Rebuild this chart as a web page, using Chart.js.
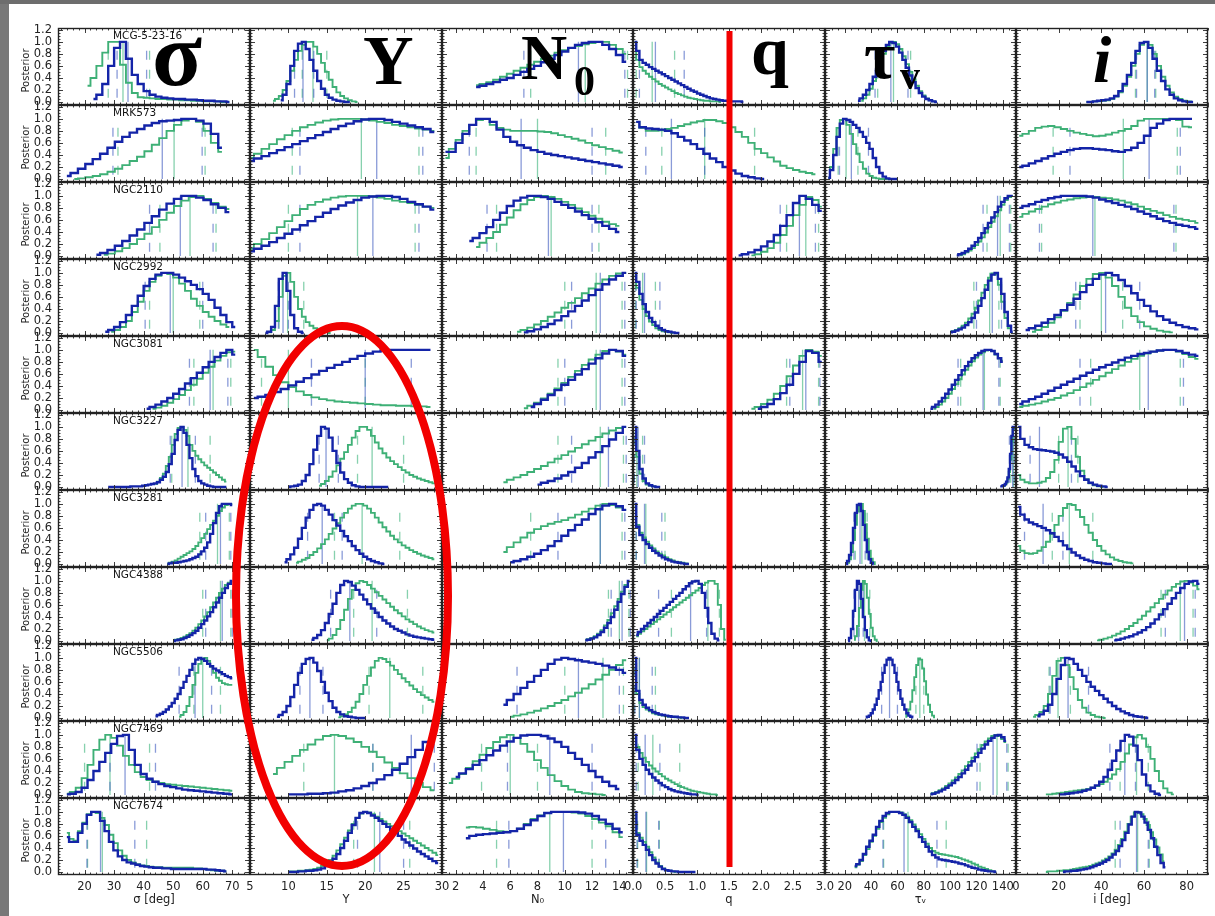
<!DOCTYPE html>
<html>
<head>
<meta charset="utf-8">
<title>Posterior distributions</title>
<script src="https://cdn.jsdelivr.net/npm/chart.js@4.4.1/dist/chart.umd.min.js"></script>
<style>
  html, body { margin: 0; padding: 0; }
  body { position: relative; width: 1215px; height: 916px; overflow: hidden; background: #fff; font-family: "DejaVu Sans", "Liberation Sans", sans-serif; }
  canvas { position: absolute; z-index: 1; }
  .edge { position: absolute; background: #787878; z-index: 4; }
  .galaxy { position: absolute; font-size: 10.5px; color: #111; white-space: nowrap; z-index: 2; }
  .ylab { position: absolute; width: 60px; text-align: center; font-size: 10px; color: #222; transform: rotate(-90deg); white-space: nowrap; z-index: 2; }
  .sym { position: absolute; font-family: "Liberation Serif", "DejaVu Serif", serif; font-weight: bold; color: #000; line-height: 1; white-space: nowrap; z-index: 2; }
  svg { position: absolute; left: 0; top: 0; z-index: 3; }
</style>
</head>
<body>
<div class="edge" style="left:0;top:0;width:9px;height:916px"></div>
<div class="edge" style="left:0;top:0;width:1215px;height:4px;background:#6d6d6d"></div>

<div class="sym" style="left:152px;top:8px;font-size:92px">σ</div>
<div class="sym" style="left:363px;top:26px;font-size:70px">Y</div>
<div class="sym" style="left:521px;top:26px;font-size:64px">N</div>
<div class="sym" style="left:574px;top:60px;font-size:42px">0</div>
<div class="sym" style="left:751px;top:17px;font-size:68px">q</div>
<div class="sym" style="left:864px;top:21px;font-size:68px">τ</div>
<div class="sym" style="left:900px;top:56px;font-size:40px">v</div>
<div class="sym" style="left:1093px;top:27px;font-size:66px;font-style:italic">i</div>

<svg width="1215" height="916">
  <line x1="729.5" y1="31" x2="729.5" y2="867" stroke="#f20000" stroke-width="6"/>
  <ellipse cx="342" cy="596" rx="106" ry="270" fill="none" stroke="#f20000" stroke-width="8"/>
</svg>

<script>
// ---- data: one entry per galaxy (row); curves are [firstBinCentre, binWidth, [posterior values]] ----
const galaxies = ['MCG-5-23-16', 'MRK573', 'NGC2110', 'NGC2992', 'NGC3081', 'NGC3227',
                  'NGC3281', 'NGC4388', 'NGC5506', 'NGC7469', 'NGC7674'];

// sigma [deg]
const sigmaTicks = [20, 30, 40, 50, 60, 70];
const sigmaGreen = [
  [21, 2, [.27,.4,.6,.82,1,1,.62,.32,.15,.08,.07,.06,.05,.05,.04,.04,.03,.03,.02,.02,.01,.01,.01,0,0]],
  [16.5, 2.5, [0,.01,.03,.05,.08,.12,.17,.23,.3,.37,.46,.57,.68,.8,.9,.97,1,.95,.8,.6,.45]],
  [26.5, 2.5, [.02,.04,.08,.13,.2,.28,.37,.48,.6,.72,.83,.92,.98,1,.95,.88,.82,.78]],
  [29, 2, [.02,.05,.1,.2,.35,.52,.7,.85,.95,1,.98,.92,.82,.7,.57,.45,.35,.27,.2,.14,.1]],
  [43, 2, [.02,.04,.07,.12,.18,.25,.33,.42,.52,.62,.72,.82,.9,.96,.97]],
  [44, 1, [.05,.09,.15,.22,.35,.5,.7,.88,.98,1,.95,.85,.7,.6,.52,.46,.41,.36,.32,.28,.24,.2,.16,.12,.09]],
  [48, 1, [0,.02,.04,.06,.09,.12,.15,.18,.21,.25,.3,.36,.43,.5,.58,.65,.72,.8,.88,.94,.98,1,1]],
  [50, 1, [.01,.02,.03,.05,.07,.1,.13,.17,.22,.28,.34,.41,.48,.56,.64,.72,.8,.87,.93,.97,.98]],
  [52, 1, [.02,.05,.1,.2,.35,.55,.75,.9,.98,1,.95,.85,.75,.67,.62,.58,.56,.55,.55]],
  [14, 2, [.02,.05,.12,.28,.5,.75,.92,1,.95,.82,.65,.5,.38,.3,.25,.22,.2,.18,.17,.16,.15,.14,.13,.12,.11,.1,.09,.08,.07]],
  [14, 1.5, [.65,.55,.52,.68,.82,.96,1,.98,.9,.78,.62,.48,.36,.27,.2,.16,.13,.11,.1,.09,.08,.08,.07,.07,.07,.07,.07,.07,.07,.06,.06,.05,.04,.03,.02,.02,.01]]
];
const sigmaBlue = [
  [23, 2, [.05,.12,.3,.6,.9,1,.72,.45,.3,.18,.12,.09,.07,.06,.05,.05,.04,.04,.03,.02,.02,.01,.01,0]],
  [14, 2.5, [.05,.1,.17,.25,.33,.42,.52,.62,.7,.77,.83,.89,.93,.96,.97,.98,1,1,.97,.92,.75,.52]],
  [24, 2.5, [.02,.05,.1,.17,.25,.34,.44,.55,.66,.77,.87,.95,1,1,.97,.93,.86,.8,.73]],
  [27, 2, [.02,.05,.1,.18,.3,.45,.62,.78,.9,.97,1,1,.97,.92,.86,.8,.73,.65,.55,.42,.3,.18,.1]],
  [41, 2, [.02,.05,.09,.14,.2,.27,.35,.44,.53,.62,.71,.8,.88,.95,1,.92]],
  [28, 1, [0,0,0,0,0,0,0,0,.01,.01,.01,.01,.02,.03,.04,.05,.06,.08,.12,.17,.25,.38,.55,.78,.95,1,.9,.7,.48,.3,.18,.1,.06,.04,.02,.01,0,0,0,0,0]],
  [48, 1, [0,.01,.02,.02,.03,.04,.05,.06,.08,.1,.12,.16,.21,.27,.36,.5,.68,.85,.96,1,1,1,.98]],
  [50, 1, [0,.01,.02,.03,.05,.07,.1,.13,.17,.22,.28,.34,.41,.48,.56,.64,.72,.8,.88,.95,1]],
  [44, 1, [.03,.05,.07,.1,.14,.19,.25,.32,.4,.5,.6,.7,.8,.9,.97,1,.98,.95,.9,.86,.82,.79,.76,.73,.7,.68,.66]],
  [14, 2, [.01,.02,.05,.12,.25,.4,.55,.7,.85,.98,1,.75,.5,.35,.27,.22,.18,.15,.13,.11,.09,.08,.07,.06,.05,.04,.03,.02,.01]],
  [14, 1.5, [.58,.5,.5,.65,.8,.95,1,1,.85,.68,.5,.36,.26,.2,.16,.14,.12,.1,.09,.08,.07,.07,.06,.06,.05,.05,.05,.05,.05,.05,.05,.05,.04,.04,.03,.02,.01]]
];
// [green lo, median, hi], [blue lo, median, hi]
const sigmaMarks = [
  [[28, 33, 42], [31, 34.7, 41]], [[31.3, 50.3, 60.8], [29.6, 46.3, 59.8]],
  [[45.5, 55.7, 64.5], [42, 52.4, 63.5]], [[42, 50, 59], [40.5, 49, 60]],
  [[57, 63.5, 69.5], [55.5, 62.5, 68.5]], [[49.5, 55, 62.5], [49, 53, 57.5]],
  [[59, 65, 69], [61, 66, 69.5]], [[60, 66, 69.5], [61, 66.6, 70]],
  [[57, 60, 66], [52, 57.4, 63]], [[20, 28.6, 42], [28.6, 33.7, 44]],
  [[21, 26, 41], [20.8, 25.4, 37]]
];

// Y
const upsTicks = [5, 10, 15, 20, 25, 30];
const upsGreen = [
  [8, .5, [.02,.05,.1,.2,.35,.52,.7,.85,.95,1,1,.92,.8,.65,.5,.37,.25,.16,.1,.06,.03,.01,0]],
  [5, 1, [.35,.42,.5,.58,.66,.73,.8,.86,.9,.94,.97,.99,1,1,1,.99,.97,.95,.93,.9,.88,.86,.84,.82,.8]],
  [5, 1, [.12,.2,.28,.38,.48,.58,.68,.78,.85,.9,.94,.97,.99,1,1,1,.99,.97,.95,.92,.9,.88,.85,.82,.8]],
  [7.5, .5, [.01,.05,.2,.6,.95,1,.85,.6,.4,.27,.18,.12,.08,.05,.03,.02,0]],
  [5.5, 1, [1,.88,.72,.58,.46,.38,.31,.25,.21,.18,.16,.14,.13,.12,.11,.1,.09,.08,.08,.07,.07,.06,.06,.05]],
  [14, .5, [.02,.05,.1,.17,.26,.36,.47,.58,.7,.82,.93,1,1,.95,.85,.74,.64,.56,.49,.43,.38,.33,.28,.24,.2,.17,.14,.12,.1,.08,.06,.05]],
  [11, .5, [.02,.04,.07,.1,.15,.2,.26,.33,.41,.5,.59,.68,.77,.85,.92,.97,1,1,.97,.92,.85,.77,.69,.61,.54,.47,.41,.36,.31,.27,.23,.2,.17,.14,.12,.1,.08]],
  [15, .5, [.01,.04,.1,.2,.35,.52,.7,.85,.96,1,.98,.93,.87,.81,.75,.69,.63,.57,.51,.46,.41,.36,.32,.28,.24,.21,.18,.16,.14]],
  [16.5, .5, [.01,.03,.06,.1,.17,.27,.4,.55,.7,.84,.95,1,.98,.93,.87,.8,.73,.66,.6,.54,.48,.43,.38,.34,.3,.27]],
  [8, 1, [.35,.45,.55,.65,.75,.84,.92,.98,1,.98,.94,.88,.8,.72,.63,.54,.45,.36,.28,.2,.13,.08]],
  [10, .5, [.01,.01,.01,.02,.02,.03,.04,.05,.07,.1,.14,.2,.27,.36,.46,.57,.69,.8,.9,.97,1,.99,.96,.92,.88,.84,.8,.76,.72,.68,.64,.6,.56,.52,.48,.44,.4,.36,.32,.28]]
];
const upsBlue = [
  [9, .5, [.03,.12,.3,.6,.85,.97,1,.88,.7,.52,.35,.22,.12,.07,.04,.02,.01,0,0]],
  [5, 1, [.3,.34,.38,.43,.48,.53,.58,.63,.68,.73,.78,.83,.88,.92,.96,.99,1,1,.98,.95,.92,.89,.86,.83,.78]],
  [5, 1, [.08,.12,.17,.23,.3,.37,.44,.51,.58,.65,.72,.78,.84,.89,.93,.97,.99,1,1,.98,.95,.9,.86,.82,.77]],
  [7, .5, [0,.02,.1,.45,.9,1,.7,.3,.08,.02,0]],
  [5.5, 1, [.2,.22,.25,.3,.35,.41,.47,.53,.59,.65,.7,.75,.8,.85,.9,.94,.97,.99,1,1,1,1,1,1]],
  [10, .5, [0,.01,.02,.04,.1,.2,.38,.62,.85,1,.97,.82,.6,.4,.24,.13,.07,.03,.01,0,0,0,0,0,0,0,0]],
  [9.5, .5, [.03,.08,.16,.27,.42,.6,.77,.9,.98,1,.97,.9,.82,.73,.64,.55,.46,.38,.3,.23,.17,.12,.08,.05,.03,.01,0]],
  [13, .5, [.02,.05,.1,.18,.3,.45,.62,.8,.93,1,.98,.92,.85,.77,.69,.61,.54,.47,.4,.34,.29,.24,.2,.17,.14,.11,.09,.07,.06,.05,.04,.03,.02]],
  [8.5, .5, [.02,.05,.1,.2,.35,.55,.75,.9,.98,1,.92,.78,.6,.42,.28,.17,.1,.06,.03,.02,.01,0,0,0]],
  [10, 1, [.01,.01,.01,.02,.02,.03,.04,.06,.08,.11,.15,.2,.26,.33,.42,.52,.63,.75,.88,1]],
  [10, .5, [0,0,0,.01,.01,.02,.02,.03,.04,.06,.1,.15,.22,.3,.4,.52,.65,.78,.9,.98,1,.98,.94,.9,.85,.8,.75,.7,.65,.6,.54,.49,.44,.39,.34,.3,.26,.22,.18,.15]]
];
const upsMarks = [
  [[11.8, 13.2, 15], [10.8, 11.9, 13.3]], [[10.5, 19.5, 27], [11.5, 21.5, 27.5]],
  [[10, 19, 26.5], [11.5, 21, 27]], [[8.8, 9.9, 12], [8.7, 9.3, 10]],
  [[6.5, 10, 20], [13, 20, 26]], [[19, 20.9, 25], [14, 14.9, 16.5]],
  [[16, 19.6, 24.5], [12.5, 14.4, 17]], [[18.5, 20.9, 25.5], [15.5, 18, 21.5]],
  [[20.5, 23.2, 27.5], [11.5, 12.8, 14.5]], [[12, 16, 21], [21, 26, 29]],
  [[18.5, 21.2, 25.8], [19, 21.9, 25]]
];

// N0
const nTicks = [2, 4, 6, 8, 10, 12, 14];
const nGreen = [
  [3.5, .5, [.28,.3,.33,.37,.42,.47,.52,.57,.62,.67,.72,.77,.82,.86,.9,.93,.96,.98,1,1,.95,.88,.8]],
  [1.25, .5, [.35,.5,.65,.8,.9,.98,1,.9,.85,.82,.8,.8,.8,.8,.79,.78,.76,.73,.7,.67,.64,.6,.56,.53,.5,.47,.44]],
  [3.5, .5, [.15,.22,.3,.4,.52,.64,.76,.86,.93,.98,1,.98,.95,.9,.85,.79,.73,.67,.62,.57,.53,.5]],
  [6.5, .5, [.02,.05,.09,.14,.2,.27,.34,.42,.5,.58,.66,.74,.82,.89,.95,.99,1]],
  [7, .5, [.03,.07,.12,.19,.27,.36,.45,.55,.65,.75,.84,.92,.98,1,.97,.92]],
  [5.5, .5, [.08,.12,.16,.2,.25,.3,.35,.41,.47,.53,.59,.65,.71,.77,.83,.89,.94,.98,1]],
  [5.5, .5, [.2,.28,.36,.44,.52,.58,.63,.67,.7,.73,.77,.82,.87,.92,.97,1,.98,.94,.9]],
  [11.5, .25, [.02,.03,.05,.08,.12,.18,.26,.35,.46,.58,.7,.82,.93,.98]],
  [6, .5, [.02,.04,.06,.09,.12,.16,.2,.25,.3,.36,.42,.49,.56,.64,.72,.8,.88,.96]],
  [1.5, .5, [.2,.27,.35,.45,.56,.67,.78,.88,.96,1,.95,.85,.72,.58,.45,.33,.23,.15,.09,.05,.03,.02,.01,0]],
  [2.75, .5, [.74,.75,.74,.72,.7,.68,.67,.68,.72,.8,.88,.94,.98,1,1,1,.99,.97,.93,.88,.82,.76,.66,.58]]
];
const nBlue = [
  [3.5, .5, [.25,.27,.3,.33,.37,.4,.45,.5,.55,.6,.66,.72,.78,.84,.9,.95,.98,1,1,.95,.88,.78,.67]],
  [1.25, .5, [.45,.45,.6,.75,.9,1,1,.95,.82,.7,.62,.56,.52,.48,.45,.42,.4,.38,.36,.34,.32,.3,.28,.26,.24,.22,.2]],
  [3, .5, [.25,.3,.38,.48,.6,.72,.83,.92,.97,1,1,.98,.95,.9,.85,.8,.74,.68,.62,.56,.5,.45,.4]],
  [7, .5, [.01,.03,.06,.1,.15,.21,.28,.36,.45,.54,.63,.72,.81,.89,.95,1]],
  [7.5, .5, [.05,.1,.17,.25,.33,.42,.5,.59,.68,.77,.86,.94,1,.98,.9]],
  [8, .5, [.04,.07,.1,.14,.19,.25,.32,.4,.49,.58,.68,.79,.9,1]],
  [6, .5, [.03,.05,.08,.12,.17,.23,.3,.38,.47,.56,.65,.74,.83,.91,.97,1,.96,.9]],
  [11.5, .25, [.01,.02,.04,.06,.1,.15,.22,.3,.4,.52,.65,.78,.9,1]],
  [5.5, .5, [.22,.3,.4,.5,.6,.7,.8,.9,.97,1,.98,.96,.94,.92,.9,.87,.84,.8,.75]],
  [2, .5, [.3,.36,.43,.5,.58,.66,.74,.82,.89,.95,.99,1,1,.98,.94,.88,.8,.7,.6,.5,.4,.3,.22,.15,.1]],
  [2.75, .5, [.56,.6,.62,.63,.64,.65,.66,.68,.72,.78,.86,.93,.98,1,1,1,1,.99,.97,.93,.87,.8,.72,.66]]
];
const nMarks = [
  [[7.5, 11.5, 14.6], [7, 11, 14.4]], [[3.5, 8, 13], [3, 6.8, 12]],
  [[5, 9, 12.5], [4.3, 8.8, 12]], [[10, 12.3, 14.2], [10.5, 12.6, 14.4]],
  [[9.5, 12.3, 14.2], [10, 12.6, 14.4]], [[9.5, 12.6, 14.3], [10.5, 13.2, 14.5]],
  [[7.5, 12.6, 14.2], [9.5, 12.6, 14.4]], [[13.2, 14, 14.7], [13.4, 14.2, 14.8]],
  [[10, 12.8, 14.3], [6.5, 11, 14]], [[3.9, 6, 8], [5.8, 8.9, 12]],
  [[5, 8.9, 12], [5.9, 9.9, 13]]
];

// q
const qTicks = [0, 0.5, 1, 1.5, 2, 2.5, 3];
const qGreen = [
  [.025, .05, [1,.7,.58,.52,.47,.42,.38,.34,.3,.27,.24,.21,.18,.15,.13,.11,.09,.07,.06,.05,.04,.03,.02,.02,.01,.01,.01,0]],
  [.05, .1, [.95,.85,.8,.8,.81,.83,.85,.88,.91,.94,.96,.98,.98,.96,.93,.86,.78,.7,.6,.5,.43,.36,.29,.22,.18,.15,.12,.1,.08]],
  [1.85, .1, [.01,.03,.07,.13,.22,.35,.5,.68,.85,.98,.93,.82]],
  [.025, .05, [.95,.75,.55,.4,.28,.19,.13,.08,.05,.03,.02,.01,0]],
  [1.85, .1, [.02,.05,.1,.17,.27,.4,.56,.74,.9,1,.97,.9]],
  [.025, .05, [.9,.5,.22,.1,.04,.02,.01,0]],
  [.025, .05, [.95,.65,.52,.44,.37,.31,.26,.21,.17,.14,.11,.08,.06,.04,.03,.02,.01,0]],
  [.05, .05, [.08,.12,.16,.2,.24,.28,.32,.36,.4,.44,.48,.52,.56,.6,.64,.68,.72,.76,.8,.84,.88,.93,.97,1,1,.95,.6,.2,.02]],
  [.025, .05, [.9,.4,.25,.18,.14,.11,.08,.06,.05,.04,.03,.02,.02,.01,.01,0]],
  [.025, .05, [.95,.8,.7,.62,.55,.49,.44,.39,.35,.31,.27,.24,.21,.18,.15,.13,.11,.09,.07,.06,.05,.04,.03,.02,.01,.01,0]],
  [.025, .05, [.95,.65,.57,.5,.42,.33,.24,.16,.1,.06,.03,.02,.01,0]]
];
const qBlue = [
  [.025, .05, [1,.85,.7,.65,.62,.58,.55,.52,.49,.46,.43,.4,.37,.34,.31,.28,.25,.22,.19,.17,.14,.12,.1,.08,.06,.05,.04,.03,.02,.02,.01,.01,.01,.01,0]],
  [.05, .1, [.95,.86,.84,.83,.82,.8,.76,.7,.64,.58,.5,.42,.34,.28,.2,.14,.09,.05,.03,.01,0]],
  [1.65, .1, [.01,.03,.06,.1,.16,.24,.35,.5,.68,.88,1,.95,.85,.75]],
  [.025, .05, [1,.85,.65,.48,.35,.25,.18,.12,.08,.05,.03,.02,.01,0,0]],
  [1.95, .1, [.02,.05,.1,.18,.28,.42,.6,.8,.98,.95,.8]],
  [.025, .05, [1,.6,.3,.14,.06,.03,.01,0,0]],
  [.025, .05, [1,.62,.48,.4,.33,.27,.22,.18,.14,.11,.08,.06,.04,.03,.02,.01,0,0]],
  [.05, .05, [.1,.15,.2,.25,.3,.35,.4,.45,.5,.55,.6,.65,.7,.75,.8,.86,.91,.96,.99,1,.95,.8,.55,.3,.12,.04,.01]],
  [.025, .05, [1,.45,.3,.22,.17,.13,.1,.08,.06,.05,.04,.03,.02,.02,.01,.01,0,0]],
  [.025, .05, [1,.75,.6,.5,.42,.35,.29,.24,.2,.16,.13,.1,.08,.06,.05,.04,.03,.02,.01,.01,0]],
  [.025, .05, [1,.62,.52,.45,.37,.28,.2,.14,.09,.05,.03,.02,.01,.01,0,0,0,0,0,0]]
];
const qMarks = [
  [[.05, .3, .65], [.1, .35, .8]], [[.45, 1.12, 1.9], [.2, .6, 1.12]],
  [[2.4, 2.7, 2.9], [2.3, 2.6, 2.85]], [[.04, .15, .35], [.05, .18, .42]],
  [[2.4, 2.65, 2.9], [2.45, 2.7, 2.92]], [[.02, .06, .15], [.02, .08, .18]],
  [[.05, .2, .5], [.05, .18, .45]], [[.6, 1.17, 1.35], [.4, .9, 1.15]],
  [[.02, .1, .35], [.03, .1, .3]], [[.08, .31, .73], [.05, .19, .42]],
  [[.07, .21, .41], [.06, .2, .4]]
];

// tau_V
const tauTicks = [20, 40, 60, 80, 100, 120, 140];
const tauGreen = [
  [32.5, 2.5, [.02,.06,.12,.22,.35,.5,.65,.8,.92,.98,1,.96,.88,.76,.63,.5,.38,.27,.18,.11,.06,.03,.01,0]],
  [7.5, 2.5, [.02,.2,.5,.85,.98,1,.9,.75,.58,.42,.28,.17,.09,.05,.02,.01,0,0,0,0,0,0]],
  [107.5, 2.5, [.01,.03,.06,.09,.13,.18,.24,.31,.39,.48,.57,.66,.76,.85,.93,.98,1]],
  [100, 2.5, [.02,.03,.05,.08,.12,.17,.24,.32,.42,.54,.67,.8,.92,.99,.97,.8,.52,.25,.08,.01]],
  [87.5, 2.5, [.02,.05,.09,.14,.2,.27,.35,.43,.51,.59,.67,.74,.81,.87,.92,.96,.99,1,.98,.92,.86,.82]],
  [140, 1, [.01,.02,.04,.07,.13,.25,.45,.75,.95,1]],
  [22.5, 1.5, [.02,.08,.2,.4,.65,.87,.98,1,.88,.66,.42,.22,.09,.03,0]],
  [27, 1.5, [.02,.08,.25,.55,.85,1,.95,.72,.45,.22,.08,.02,0]],
  [66, 1.5, [.02,.06,.14,.27,.46,.68,.88,.99,.97,.82,.61,.39,.22,.1,.04,.01]],
  [85, 2.5, [.02,.03,.05,.08,.11,.15,.19,.24,.29,.35,.41,.48,.55,.62,.69,.76,.83,.89,.94,.98,1,.98,.93,.88]],
  [27.5, 2.5, [.08,.12,.18,.28,.38,.5,.6,.72,.83,.9,.96,1,1,1,.99,.96,.92,.86,.79,.71,.63,.55,.47,.4,.35,.32,.3,.29,.28,.27,.26,.25,.23,.21,.19,.17,.14,.12,.09,.07,.05,.03,.01,0]]
];
const tauBlue = [
  [30, 2.5, [.02,.06,.12,.2,.3,.42,.55,.7,.85,.95,1,.98,.92,.82,.7,.57,.44,.33,.23,.15,.09,.05,.03,.01,0]],
  [7.5, 2.5, [.02,.15,.4,.7,.92,1,.98,.95,.9,.85,.78,.7,.6,.5,.35,.2,.1,.04,.01,0,0,0]],
  [105, 2.5, [.01,.03,.05,.08,.12,.17,.23,.3,.38,.46,.55,.64,.73,.82,.9,.96,1,1]],
  [100, 2.5, [.01,.02,.04,.06,.09,.13,.18,.25,.34,.45,.58,.72,.87,.97,1,.9,.65,.35,.12,.02]],
  [85, 2.5, [.02,.05,.09,.14,.2,.27,.34,.42,.5,.58,.66,.73,.8,.86,.91,.95,.98,1,1,.98,.93,.86,.8]],
  [138, 1, [.01,.01,.02,.03,.05,.09,.16,.3,.55,.85,1,.98]],
  [21, 1.5, [0,.05,.15,.35,.6,.85,.98,1,.88,.65,.4,.2,.08,.02,0]],
  [22.5, 1.5, [0,.05,.2,.5,.85,1,.95,.7,.4,.18,.06,.01,0]],
  [36, 1.5, [.01,.02,.04,.08,.14,.22,.32,.46,.6,.75,.88,.97,1,.97,.88,.75,.6,.46,.32,.22,.14,.08,.04,.02,.01]],
  [85, 2.5, [.01,.02,.04,.06,.09,.12,.16,.2,.25,.3,.36,.42,.49,.56,.63,.7,.77,.84,.9,.95,.99,1,.96,.9]],
  [27.5, 2.5, [.1,.13,.2,.3,.42,.52,.62,.75,.85,.93,.98,1,1,1,.98,.95,.9,.83,.75,.68,.58,.5,.42,.34,.28,.24,.21,.2,.19,.18,.17,.16,.14,.13,.11,.09,.07,.06,.04,.03,.02,.01,.01,0]]
];
const tauMarks = [
  [[45, 57, 70], [43, 55, 68]], [[15, 21, 30], [16, 25, 38]],
  [[128, 138, 146], [125, 136, 145]], [[118, 130, 137], [120, 132, 139]],
  [[108, 126, 138], [106, 125, 137]], [[146, 148, 149.5], [145, 147.5, 149]],
  [[28, 33, 37], [27, 31.6, 35.5]], [[31, 35, 39], [27, 30.5, 34]],
  [[74, 77, 80], [48, 54, 60]], [[122.7, 135.6, 144], [120.4, 132.6, 143]],
  [[49.5, 68, 97], [49, 65, 90]]
];

// i [deg]
const incTicks = [0, 20, 40, 60, 80];
const incGreen = [
  [33, 2, [0,0,.01,.01,.02,.03,.05,.09,.16,.27,.42,.6,.8,.95,1,.95,.8,.6,.42,.27,.16,.09,.05,.02,.01,0]],
  [1.5, 3, [.72,.75,.8,.85,.87,.88,.86,.83,.8,.77,.75,.73,.71,.72,.74,.77,.8,.83,.88,.97,1,1,1,1,1,.98,.87,.86]],
  [1.5, 3, [.65,.7,.74,.78,.82,.86,.89,.92,.94,.96,.97,.98,.98,.97,.96,.94,.92,.89,.86,.82,.78,.75,.72,.68,.65,.62,.6,.58,.55]],
  [7.5, 3, [.02,.05,.1,.17,.26,.37,.5,.64,.78,.9,.98,1,.92,.78,.6,.42,.28,.18,.11,.07,.04,.02,.01]],
  [1.5, 3, [.05,.07,.09,.11,.14,.17,.2,.24,.28,.33,.38,.44,.5,.56,.62,.68,.74,.8,.85,.9,.94,.97,.99,1,1,.97,.93,.88,.85]],
  [1, 2, [.2,.12,.08,.06,.06,.07,.09,.15,.25,.45,.75,.97,1,.8,.5,.27,.13,.06,.03,.01,0]],
  [1, 2, [.3,.22,.18,.17,.18,.22,.28,.37,.5,.65,.8,.93,1,.98,.9,.78,.65,.52,.4,.3,.22,.16,.11,.07,.05,.03,.02,.01]],
  [38, 2, [.01,.02,.04,.06,.09,.12,.16,.2,.25,.3,.36,.42,.49,.56,.63,.7,.77,.84,.9,.95,.99,1,.97,.92,.86]],
  [8, 2, [.02,.05,.1,.2,.4,.7,.95,1,.88,.68,.48,.3,.17,.09,.05,.02,.01,0]],
  [14, 2, [.01,.01,.02,.03,.04,.05,.06,.07,.08,.09,.1,.12,.15,.18,.22,.27,.34,.43,.55,.69,.84,.96,1,.94,.8,.6,.4,.23,.11,.04,.01]],
  [14, 1.5, [0,.01,.01,.01,.02,.02,.03,.03,.04,.05,.06,.07,.08,.09,.1,.12,.14,.16,.19,.22,.26,.31,.37,.45,.55,.67,.8,.92,.99,1,.96,.88,.78,.66,.54,.41,.29,.18]]
];
const incBlue = [
  [33, 2, [0,0,.01,.02,.03,.04,.06,.1,.18,.3,.45,.65,.85,.98,1,.9,.72,.52,.35,.21,.12,.06,.03,.01,0,0]],
  [1.5, 3, [.2,.22,.26,.3,.34,.38,.42,.45,.48,.5,.51,.51,.5,.49,.48,.46,.45,.48,.52,.6,.72,.85,.92,.98,1,1,1,1]],
  [1.5, 3, [.8,.83,.86,.9,.93,.96,.98,1,1,1,1,.99,.97,.94,.91,.88,.85,.82,.78,.74,.7,.66,.62,.58,.55,.52,.5,.48,.45]],
  [4.5, 3, [.05,.08,.12,.17,.23,.3,.38,.47,.57,.68,.8,.9,.97,1,.96,.88,.78,.66,.55,.45,.36,.28,.22,.17,.13,.1,.08,.06]],
  [1.5, 3, [.1,.14,.18,.22,.27,.32,.37,.42,.47,.52,.57,.62,.67,.71,.75,.79,.83,.87,.9,.93,.95,.97,.99,1,1,.98,.95,.92,.9]],
  [1, 2, [1,.8,.7,.66,.63,.62,.61,.6,.59,.57,.54,.49,.42,.34,.26,.18,.12,.07,.04,.02,.01,0]],
  [1, 2, [.95,.82,.74,.69,.66,.63,.6,.56,.51,.45,.38,.31,.25,.19,.14,.1,.07,.05,.03,.02,.01,0,0]],
  [46, 2, [.01,.02,.04,.06,.08,.11,.14,.18,.23,.29,.36,.44,.53,.62,.71,.8,.88,.95,.99,1,.95]],
  [10, 2, [.03,.06,.12,.22,.4,.65,.88,1,.98,.9,.8,.7,.6,.52,.45,.38,.32,.26,.2,.15,.11,.08,.05,.03,.02,.01,0]],
  [20, 2, [.01,.01,.02,.03,.04,.05,.07,.09,.12,.16,.22,.3,.42,.57,.74,.9,1,.97,.82,.58,.34,.16,.06,.02,0]],
  [22, 1.5, [0,.01,.01,.02,.02,.03,.04,.05,.06,.08,.1,.12,.14,.17,.2,.24,.29,.35,.43,.53,.65,.79,.92,1,.99,.92,.82,.7,.56,.42,.28,.15,.08]]
];
const incMarks = [
  [[56, 61.5, 65.5], [56.5, 61.5, 65]], [[17.4, 50.3, 75.6], [25.3, 62.4, 77]],
  [[12, 37, 75], [11, 36, 74]], [[30, 40, 50], [28, 42, 58]],
  [[35, 58, 77], [30, 62, 78.5]], [[20, 24.4, 29], [6.6, 11, 26]],
  [[17, 25, 36], [4, 12.7, 22]], [[68, 77, 83], [70, 79, 84]],
  [[15.5, 19.7, 25.5], [16, 24.4, 34]], [[48.8, 56.5, 62], [44, 51, 56]],
  [[46.5, 57, 62.5], [48.8, 56.5, 62]]
];

const postTicks = [0, 0.2, 0.4, 0.6, 0.8, 1.0, 1.2];

// ---- layout of the panel grid ----
const colEdges = [58, 250, 442, 633, 825, 1016, 1208];
const rowTop = 28, rowH = 77, PAD = 14;
const GREEN = 'rgb(62,176,118)', BLUE = 'rgb(20,36,168)';
const GREEN_MARK = 'rgba(70,185,130,0.65)', BLUE_MARK = 'rgba(60,88,190,0.6)';

const columns = [
  { min: 11, max: 76, ticks: sigmaTicks, minor: 2, title: 'σ [deg]', green: sigmaGreen, blue: sigmaBlue, marks: sigmaMarks },
  { min: 5, max: 30, ticks: upsTicks, minor: 1, title: 'Y', green: upsGreen, blue: upsBlue, marks: upsMarks },
  { min: 1, max: 15, ticks: nTicks, minor: 0.5, title: 'N₀', green: nGreen, blue: nBlue, marks: nMarks },
  { min: 0, max: 3, ticks: qTicks, minor: 0.1, title: 'q', green: qGreen, blue: qBlue, marks: qMarks, dec: 1 },
  { min: 5, max: 150, ticks: tauTicks, minor: 5, title: 'τᵥ', green: tauGreen, blue: tauBlue, marks: tauMarks },
  { min: 0, max: 90, ticks: incTicks, minor: 5, title: 'i [deg]', green: incGreen, blue: incBlue, marks: incMarks }
];

Chart.defaults.font.family = '"DejaVu Sans", "Liberation Sans", sans-serif';
Chart.defaults.color = '#222';

function curvePoints(c) {
  return c[2].map((v, i) => ({ x: c[0] + i * c[1], y: v }));
}

function markSets(vals, color) {
  return vals.map((v, k) => ({
    data: [{ x: v, y: k === 1 ? 1.0 : 0.85 }, { x: v, y: 0 }],
    borderColor: color,
    borderWidth: 1.3,
    borderDash: k === 1 ? [] : [9, 10],
    pointRadius: 0
  }));
}

// box with inward IDL-style ticks on all four sides
const panelFrame = {
  id: 'panelFrame',
  afterDatasetsDraw(chart, args, opts) {
    const { ctx, chartArea: a } = chart;
    const xs = chart.scales.x, ys = chart.scales.y;
    ctx.save();
    ctx.strokeStyle = '#2a2a2a';
    ctx.lineWidth = 0.9;
    ctx.beginPath();
    const step = (lo, hi, d, fn) => {
      for (let v = Math.ceil(lo / d - 1e-6) * d; v <= hi + 1e-6; v += d) fn(v);
    };
    const xt = (v, len) => {
      const px = Math.round(xs.getPixelForValue(v)) + 0.5;
      ctx.moveTo(px, a.bottom); ctx.lineTo(px, a.bottom - len);
      ctx.moveTo(px, a.top); ctx.lineTo(px, a.top + len);
    };
    const yt = (v, len) => {
      const py = Math.round(ys.getPixelForValue(v)) + 0.5;
      ctx.moveTo(a.left, py); ctx.lineTo(a.left + len, py);
      ctx.moveTo(a.right, py); ctx.lineTo(a.right - len, py);
    };
    step(xs.min, xs.max, opts.minor, v => xt(v, 2.5));
    opts.major.forEach(v => xt(v, 5));
    step(0, 1.2, 0.05, v => yt(v, 2.5));
    postTicks.forEach(v => yt(v, 5));
    ctx.stroke();
    ctx.lineWidth = 1.4;
    ctx.strokeStyle = '#222';
    ctx.strokeRect(a.left + 0.5, a.top + 0.5, a.width - 1, a.height - 1);
    ctx.restore();
  }
};

columns.forEach((col, c) => {
  for (let r = 0; r < galaxies.length; r++) {
    const isLeft = c === 0, isBottom = r === galaxies.length - 1;
    const left = isLeft ? 0 : colEdges[c] - PAD;
    const top = rowTop + r * rowH - PAD;
    const right = colEdges[c + 1] + PAD;
    const bottom = isBottom ? 916 : rowTop + (r + 1) * rowH + PAD;

    const cv = document.createElement('canvas');
    cv.width = right - left;
    cv.height = bottom - top;
    cv.style.left = left + 'px';
    cv.style.top = top + 'px';
    document.body.appendChild(cv);

    const datasets = [
      { data: curvePoints(col.blue[r]), borderColor: BLUE, borderWidth: 2.4, stepped: 'middle', pointRadius: 0 },
      { data: curvePoints(col.green[r]), borderColor: GREEN, borderWidth: 1.9, stepped: 'middle', pointRadius: 0 }
    ].concat(markSets(col.marks[r][1], BLUE_MARK), markSets(col.marks[r][0], GREEN_MARK));

    new Chart(cv, {
      type: 'line',
      data: { datasets },
      options: {
        responsive: false,
        animation: false,
        events: [],
        layout: { padding: { left: isLeft ? 12 : PAD, right: PAD, top: PAD, bottom: isBottom ? 0 : PAD } },
        scales: {
          x: {
            type: 'linear', min: col.min, max: col.max, display: isBottom,
            afterBuildTicks: s => { s.ticks = col.ticks.map(v => ({ value: v })); },
            afterFit: s => { if (isBottom) s.height = 41; },
            grid: { display: false, drawTicks: false },
            border: { display: false },
            ticks: {
              autoSkip: false, maxRotation: 0, minRotation: 0, padding: 5, color: '#222',
              font: { size: 11.5 },
              callback: v => col.dec ? v.toFixed(col.dec) : String(v)
            },
            title: { display: true, text: col.title, color: '#222', font: { size: 11.5 }, padding: { top: 0, bottom: 9 } }
          },
          y: {
            type: 'linear', min: -0.05, max: 1.23, display: isLeft,
            afterBuildTicks: s => { s.ticks = postTicks.map(v => ({ value: v })); },
            afterFit: s => { if (isLeft) s.width = 46; },
            grid: { display: false, drawTicks: false },
            border: { display: false },
            ticks: { autoSkip: false, padding: 6, color: '#222', font: { size: 11.5 }, callback: v => v.toFixed(1) }
          }
        },
        plugins: {
          legend: { display: false },
          tooltip: { enabled: false },
          panelFrame: { major: col.ticks, minor: col.minor }
        }
      },
      plugins: [panelFrame]
    });
  }
});

// galaxy names and y-axis captions
galaxies.forEach((name, r) => {
  const t = rowTop + r * rowH;
  const g = document.createElement('div');
  g.className = 'galaxy';
  g.textContent = name;
  g.style.left = '113px';
  g.style.top = (t + 1) + 'px';
  document.body.appendChild(g);

  const p = document.createElement('div');
  p.className = 'ylab';
  p.textContent = 'Posterior';
  p.style.left = (25 - 30) + 'px';
  p.style.top = (t + 38 + 5 - 6) + 'px';
  document.body.appendChild(p);
});
</script>
</body>
</html>
